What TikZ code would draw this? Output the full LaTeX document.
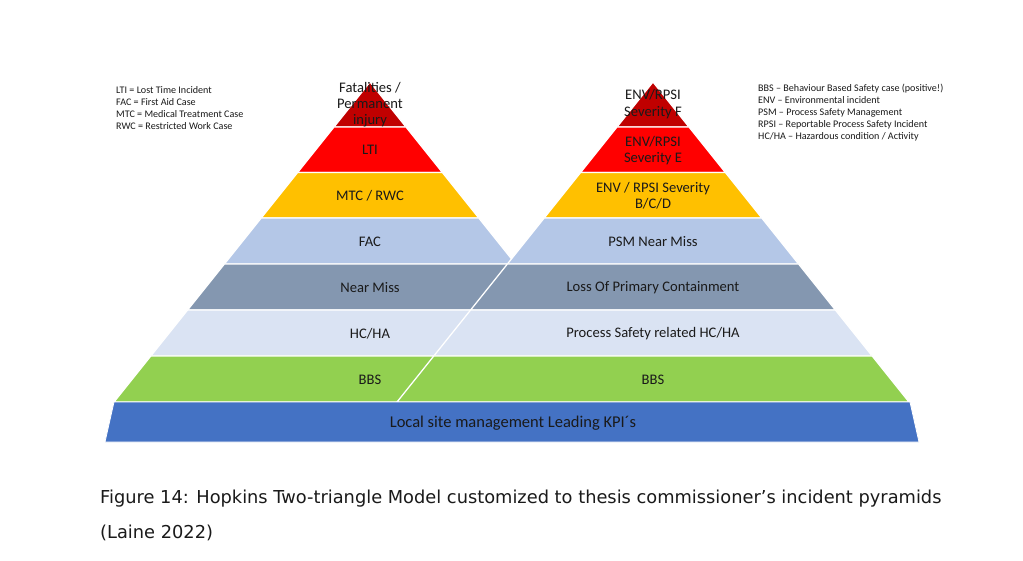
\documentclass[tikz,border=0pt]{standalone}
\usepackage{fontspec}
\setmainfont{Carlito}
\newfontfamily\capfont{DejaVu Sans}
\definecolor{cdred}{HTML}{C00000}
\definecolor{cred}{HTML}{FF0000}
\definecolor{cgold}{HTML}{FFC000}
\definecolor{clblue}{HTML}{B4C7E7}
\definecolor{cgblue}{HTML}{8497B0}
\definecolor{cpale}{HTML}{DAE3F3}
\definecolor{cgreen}{HTML}{92D050}
\definecolor{cblue}{HTML}{4472C4}
\definecolor{ctxt}{HTML}{1A1A1A}
\def\pyrband#1#2#3#4{%
  \filldraw[band, fill=#4] ({#1-0.8*(#2-82)},#2) -- ({#1+0.8*(#2-82)},#2) -- ({#1+0.8*(#3-82)},#3) -- ({#1-0.8*(#3-82)},#3) -- cycle;}
\begin{document}
\begin{tikzpicture}[x=1pt,y=-1pt,
  band/.style={draw=white,line width=1.3pt,line join=miter},
  lbl/.style={font=\fontsize{14.6}{16}\selectfont, text=ctxt, align=center, inner sep=0pt},
  legend/.style={font=\fontsize{10.1}{12}\selectfont, text=ctxt, align=left, inner sep=0pt, anchor=north west},
  captxt/.style={font=\capfont\fontsize{17.8}{35}\selectfont, text=ctxt, inner sep=0pt, anchor=base west}]
\useasboundingbox (0,0) rectangle (1023,561);
\fill[white] (0,0) rectangle (1023,561);
% left pyramid
\pyrband{370}{82}{127}{cdred}
\pyrband{370}{127}{172.5}{cred}
\pyrband{370}{172.5}{218}{cgold}
\pyrband{370}{218}{264}{clblue}
\pyrband{370}{264}{310}{cgblue}
\pyrband{370}{310}{356}{cpale}
\pyrband{370}{356}{402}{cgreen}
% right pyramid
\pyrband{653}{82}{127}{cdred}
\pyrband{653}{127}{172.5}{cred}
\pyrband{653}{172.5}{218}{cgold}
\pyrband{653}{218}{264}{clblue}
\pyrband{653}{264}{310}{cgblue}
\pyrband{653}{310}{356}{cpale}
\pyrband{653}{356}{402}{cgreen}
% base bar
\filldraw[fill=cblue, draw=white, line width=0.8pt] (114,402) -- (910,402) -- (919,442) -- (105,442) -- cycle;
% left labels
\node[lbl] (fat) at (370,104.5) {Fatalities /\\Permanent\\injury};
\node[lbl] (lti) at (370,150) {LTI};
\node[lbl] (mtc) at (370,196) {MTC / RWC};
\node[lbl] (fac) at (370,242) {FAC};
\node[lbl] (nm) at (370,288) {Near Miss};
\node[lbl] (hc) at (370,334) {HC/HA};
\node[lbl] (bbsl) at (370,380) {BBS};
% right labels
\node[lbl, font=\fontsize{14.6}{16.8}\selectfont] (sevf) at (653,104.5) {ENV/RPSI\\Severity F};
\node[lbl] (seve) at (653,150.5) {ENV/RPSI\\Severity E};
\node[lbl] (sevb) at (653,196) {ENV / RPSI Severity\\B/C/D};
\node[lbl] (psm) at (653,242) {PSM Near Miss};
\node[lbl] (lopc) at (653,288) {Loss Of Primary Containment};
\node[lbl] (pshc) at (653,334) {Process Safety related HC/HA};
\node[lbl] (bbsr) at (653,380) {BBS};
\node[lbl, font=\fontsize{16.5}{18}\selectfont] (kpi) at (513,423) {Local site management Leading KPI´s};
% legends
\node[legend] (legl) at (116,86) {LTI = Lost Time Incident\\FAC = First Aid Case\\MTC = Medical Treatment Case\\RWC = Restricted Work Case};
\node[legend] (legr) at (758,84) {BBS – Behaviour Based Safety case (positive!)\\ENV – Environmental incident\\PSM – Process Safety Management\\RPSI – Reportable Process Safety Incident\\HC/HA – Hazardous condition / Activity};
% caption
\node[captxt] (cap1) at (100,503) {Figure 14: Hopkins Two-triangle Model customized to thesis commissioner’s incident pyramids};
\node[captxt] (cap2) at (100,538) {(Laine 2022)};
\end{tikzpicture}
\end{document}
